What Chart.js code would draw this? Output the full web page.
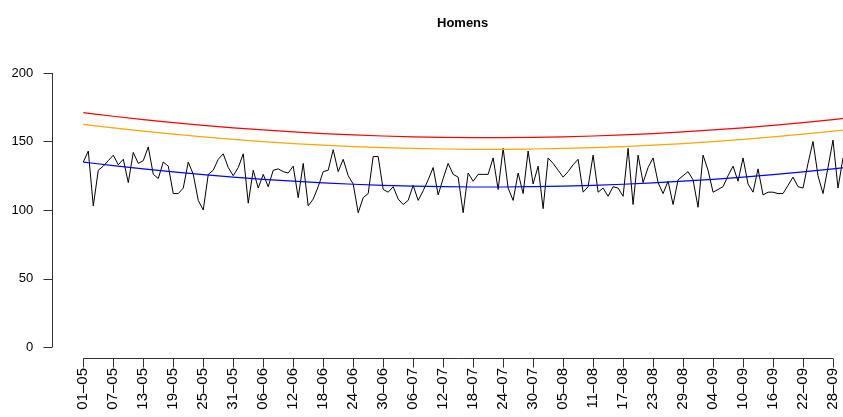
<!DOCTYPE html>
<html>
<head>
<meta charset="utf-8">
<script src="https://cdn.jsdelivr.net/npm/chart.js@4/dist/chart.umd.min.js"></script>
<style>
  html, body { margin: 0; padding: 0; background: #fff; }
  #wrap { width: 843px; height: 417px; overflow: hidden; }
</style>
</head>
<body>
<div id="wrap"><canvas id="chart" width="843" height="417"></canvas></div>
<script>
// daily counts, 01-05 .. 30-09
const counts = [
  135, 143, 103, 129, 132, 136, 140, 133, 137, 120,
  142, 134, 136, 146, 126, 123, 135, 132, 112, 112,
  116, 135, 126, 107, 100, 126, 129, 137, 141, 131,
  125, 131, 141, 105, 129, 116, 126, 117, 129, 130,
  128, 127, 132, 109, 134, 103, 108, 117, 128, 129,
  144, 128, 137, 125, 119, 98, 109, 112, 139, 139,
  115, 113, 117, 108, 104, 107, 118, 107, 114, 122,
  131, 111, 123, 134, 126, 124, 98, 127, 121, 126,
  126, 126, 138, 115, 145, 116, 107, 127, 112, 143,
  119, 132, 101, 138, 134, 129, 124, 128, 133, 137,
  113, 117, 140, 113, 116, 110, 117, 116, 110, 145,
  104, 140, 120, 131, 138, 120, 112, 121, 104, 122,
  125, 128, 122, 102, 140, 129, 113, 115, 117, 125,
  132, 121, 138, 119, 113, 130, 111, 113, 113, 112,
  112, 118, 124, 117, 116, 134, 150, 125, 112, 131,
  151, 116, 138
];

// smooth curves, read at the tick days (plus the last day)
const curveDays = [0, 6, 12, 18, 24, 30, 36, 42, 48, 54, 60, 66, 72, 78, 84, 90, 96, 102, 108, 114, 120, 126, 132, 138, 144, 150, 152];
const fitBlue = [135.0, 132.4, 130.0, 127.8, 125.8, 124.0, 122.4, 121.0, 119.8, 118.8, 118.0, 117.4, 117.0, 116.8, 116.8, 117.0, 117.4, 118.0, 118.8, 119.8, 121.0, 122.4, 124.0, 125.8, 127.8, 130.0, 130.8];
const fitOrange = [162.5, 159.9, 157.5, 155.3, 153.3, 151.5, 149.9, 148.5, 147.3, 146.3, 145.5, 144.9, 144.5, 144.3, 144.3, 144.5, 144.9, 145.5, 146.3, 147.3, 148.5, 149.9, 151.5, 153.3, 155.3, 157.5, 158.3];
const fitRed = [171.0, 168.4, 166.0, 163.8, 161.8, 160.0, 158.4, 157.0, 155.8, 154.8, 154.0, 153.4, 153.0, 152.8, 152.8, 153.0, 153.4, 154.0, 154.8, 155.8, 157.0, 158.4, 160.0, 161.8, 163.8, 166.0, 166.8];

const tickLabels = ["01–05", "07–05", "13–05", "19–05", "25–05", "31–05", "06–06", "12–06", "18–06", "24–06", "30–06", "06–07", "12–07", "18–07", "24–07", "30–07", "05–08", "11–08", "17–08", "23–08", "29–08", "04–09", "10–09", "16–09", "22–09", "28–09"];
const yTicks = [0, 50, 100, 150, 200];

const months = [[5, 31], [6, 30], [7, 31], [8, 31], [9, 30]];
const pad2 = n => String(n).padStart(2, "0");

// one category per day
const days = [];
for (const [m, len] of months) {
  for (let d = 1; d <= len; d++) days.push(pad2(d) + "–" + pad2(m));
}

function spread(idx, vals) {
  const arr = new Array(days.length).fill(null);
  idx.forEach((d, i) => { arr[d] = vals[i]; });
  return arr;
}

const FONT = '"Liberation Sans", Arial, Helvetica, sans-serif';
const axisColor = "#333";

// R style detached axes + title
const rAxes = {
  id: "rAxes",
  afterDraw(chart) {
    const { ctx, chartArea, scales } = chart;
    const xs = scales.x, ys = scales.y;
    ctx.save();
    ctx.strokeStyle = axisColor;
    ctx.lineWidth = 1;

    // y axis
    const ax = Math.round(chartArea.left - 31) + 0.5;
    const y0 = ys.getPixelForValue(yTicks[0]);
    const y1 = ys.getPixelForValue(yTicks[yTicks.length - 1]);
    ctx.beginPath();
    ctx.moveTo(ax, y0); ctx.lineTo(ax, y1);
    for (const v of yTicks) {
      const p = Math.round(ys.getPixelForValue(v)) + 0.5;
      ctx.moveTo(ax, p); ctx.lineTo(ax - 9, p);
    }
    ctx.stroke();

    // x axis
    const ay = Math.round(chartArea.bottom) + 0.5;
    const first = xs.getPixelForValue(days.indexOf(tickLabels[0]));
    const last = xs.getPixelForValue(days.indexOf(tickLabels[tickLabels.length - 1]));
    ctx.beginPath();
    ctx.moveTo(first, ay); ctx.lineTo(last, ay);
    for (const t of tickLabels) {
      const p = Math.round(xs.getPixelForValue(days.indexOf(t))) + 0.5;
      ctx.moveTo(p, ay); ctx.lineTo(p, ay + 9);
    }
    ctx.stroke();

    // title, centred on the R plot region
    ctx.fillStyle = "#000";
    ctx.font = "bold 13px " + FONT;
    ctx.textAlign = "center";
    ctx.textBaseline = "middle";
    ctx.fillText("Homens", (chartArea.left - 31 + chartArea.right + 30) / 2, 23);
    ctx.restore();
  }
};

const ctx = document.getElementById("chart").getContext("2d");
new Chart(ctx, {
  type: "line",
  data: {
    labels: days,
    datasets: [
      { label: "Homens", data: counts, borderColor: "#000", borderWidth: 1, pointRadius: 0, tension: 0, order: 4 },
      { label: "ajuste", data: spread(curveDays, fitBlue), borderColor: "#0000ff", borderWidth: 1.2, pointRadius: 0, spanGaps: true, cubicInterpolationMode: "monotone", order: 3 },
      { label: "limiar", data: spread(curveDays, fitOrange), borderColor: "#ffa500", borderWidth: 1.2, pointRadius: 0, spanGaps: true, cubicInterpolationMode: "monotone", order: 2 },
      { label: "alerta", data: spread(curveDays, fitRed), borderColor: "#ff0000", borderWidth: 1.2, pointRadius: 0, spanGaps: true, cubicInterpolationMode: "monotone", order: 1 }
    ]
  },
  options: {
    responsive: false,
    devicePixelRatio: 1,
    animation: false,
    layout: { padding: { top: 62, left: 0, right: 0, bottom: 0 } },
    plugins: {
      legend: { display: false },
      title: { display: false },
      tooltip: { enabled: false }
    },
    scales: {
      x: {
        type: "category",
        offset: false,
        grid: { display: false, drawTicks: false },
        border: { display: false },
        ticks: {
          autoSkip: false,
          minRotation: 90,
          maxRotation: 90,
          padding: 10,
          color: "#000",
          font: { family: FONT, size: 15 }
        },
        afterBuildTicks(scale) {
          scale.ticks = tickLabels.map(t => ({ value: days.indexOf(t) }));
        },
        afterFit(scale) {
          scale.height = 59;
          scale.paddingLeft = 0;
          scale.paddingRight = 0;
        }
      },
      y: {
        min: -8,
        max: 208,
        grid: { display: false, drawTicks: false },
        border: { display: false },
        ticks: {
          padding: 50,
          color: "#000",
          font: { family: FONT, size: 13 }
        },
        afterBuildTicks(scale) {
          scale.ticks = yTicks.map(v => ({ value: v }));
        },
        afterFit(scale) {
          scale.width = 83.3;
          scale.paddingTop = 0;
          scale.paddingBottom = 0;
        }
      }
    }
  },
  plugins: [rAxes]
});
</script>
</body>
</html>
